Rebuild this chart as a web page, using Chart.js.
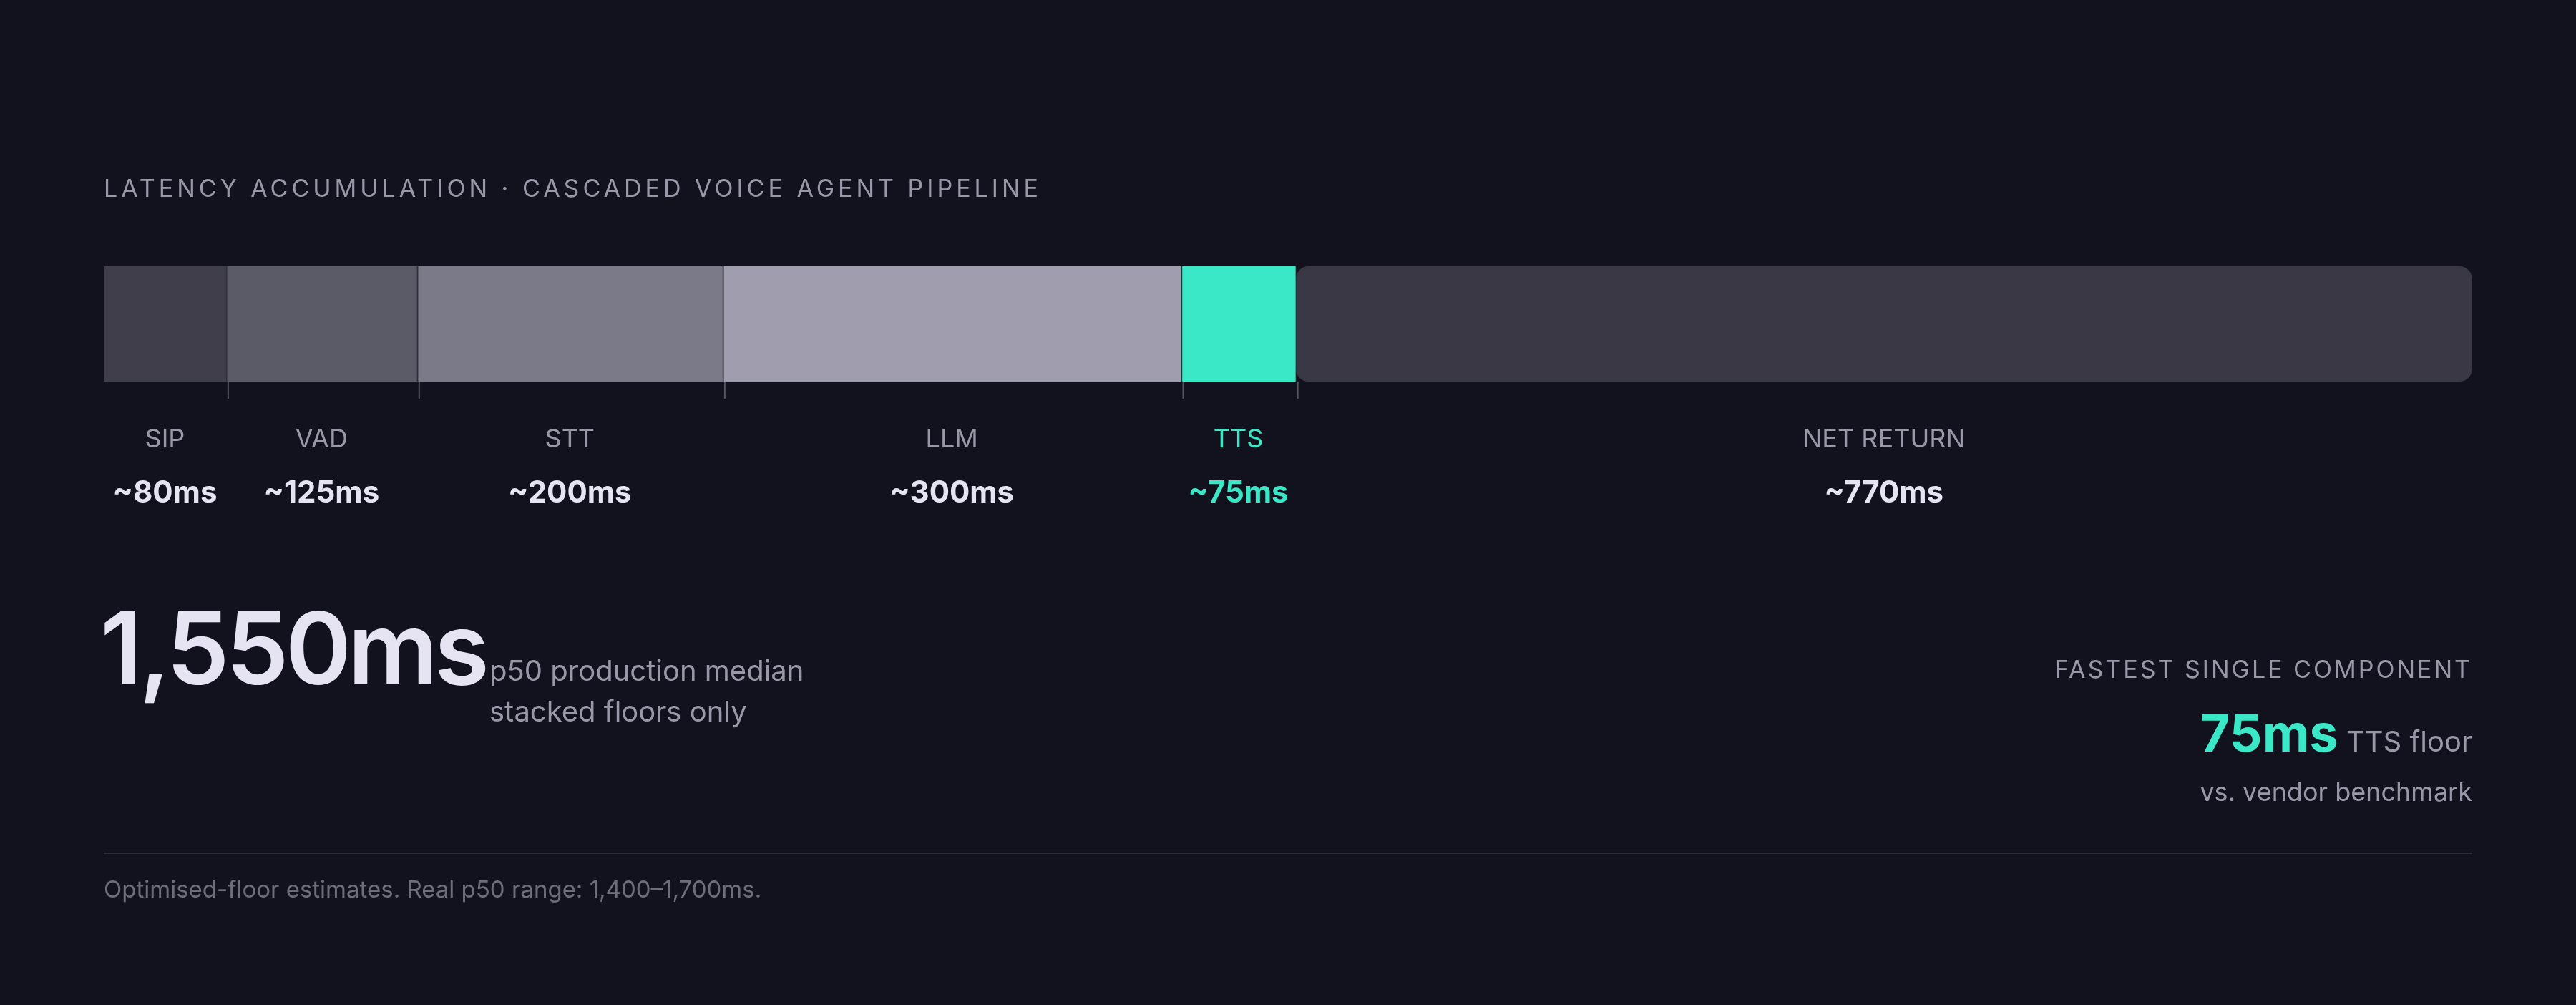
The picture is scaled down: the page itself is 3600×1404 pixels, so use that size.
<!DOCTYPE html>
<html>
<head>
<meta charset="utf-8">
<script src="https://cdn.jsdelivr.net/npm/chart.js@4"></script>
<style>
  html, body { margin: 0; padding: 0; background: #12121e; }
  body { width: 3600px; height: 1404px; position: relative; overflow: hidden; font-family: Inter, "Noto Sans", sans-serif; }
  #wrap { position: absolute; left: 0; top: 0; width: 3600px; height: 1404px; }
  .t { position: absolute; white-space: nowrap; }
</style>
</head>
<body>
<div id="wrap"><canvas id="chart"></canvas></div>

<div class="t" style="left:145px;top:242px;font-size:34px;letter-spacing:5px;color:#9a98a8;">LATENCY ACCUMULATION · CASCADED VOICE AGENT PIPELINE</div>

<div class="t" style="left:140px;top:820px;font-size:140px;font-weight:600;letter-spacing:-5px;color:#e6e4f2;">1,550ms</div>
<div class="t" style="left:684px;top:908px;font-size:40px;color:#9a98a8;line-height:57px;">p50 production median<br>stacked floors only</div>

<div class="t" style="right:145px;top:914px;font-size:34px;letter-spacing:3px;color:#9a98a8;">FASTEST SINGLE COMPONENT</div>
<div class="t" style="right:145px;top:980px;font-size:40px;color:#9a98a8;"><span style="font-size:72px;font-weight:700;color:#3ae8c8;">75ms</span> TTS floor</div>
<div class="t" style="right:145px;top:1084px;font-size:36px;color:#9a98a8;">vs. vendor benchmark</div>

<div style="position:absolute;left:145px;top:1191px;width:3310px;height:2px;background:#2c2b39;"></div>
<div class="t" style="left:145px;top:1222px;font-size:33px;color:#6e6d7a;">Optimised-floor estimates. Real p50 range: 1,400–1,700ms.</div>

<script>
const stages = ["SIP", "VAD", "STT", "LLM", "TTS", "NET RETURN"];
const latencies = [80, 125, 200, 300, 75, 770];
const valueLabels = ["~80ms", "~125ms", "~200ms", "~300ms", "~75ms", "~770ms"];
const fills = ["#3f3e4a", "#5b5a67", "#7b7a88", "#a09dae", "#3ae8c8", "#393844"];
const highlight = "TTS";

const total = latencies.reduce((a, b) => a + b, 0);

// Tick marks and labels under each segment
const segmentLabels = {
  id: "segmentLabels",
  afterDraw(chart) {
    const ctx = chart.ctx;
    const x = chart.scales.x;
    const bottom = chart.chartArea.bottom;
    let acc = 0;
    ctx.save();
    latencies.forEach((v, i) => {
      const cx = x.getPixelForValue(acc + v / 2);
      acc += v;
      if (i < latencies.length - 1) {
        const bx = x.getPixelForValue(acc) + 3;
        ctx.strokeStyle = "#55545f";
        ctx.lineWidth = 2;
        ctx.beginPath();
        ctx.moveTo(bx, bottom);
        ctx.lineTo(bx, bottom + 24);
        ctx.stroke();
      }
      const hot = stages[i] === highlight;
      ctx.textAlign = "center";
      ctx.textBaseline = "middle";
      ctx.fillStyle = hot ? "#3ae8c8" : "#9a98a8";
      ctx.font = "36px Inter, 'Noto Sans', sans-serif";
      ctx.fillText(stages[i], cx, 614);
      ctx.fillStyle = hot ? "#3ae8c8" : "#e6e4f2";
      ctx.font = "bold 42px Inter, 'Noto Sans', sans-serif";
      ctx.fillText(valueLabels[i], cx, 689);
    });
    ctx.restore();
  }
};

new Chart(document.getElementById("chart"), {
  type: "bar",
  data: {
    labels: ["pipeline"],
    datasets: stages.map((s, i) => ({
      label: s,
      data: [latencies[i]],
      backgroundColor: fills[i],
      borderColor: "#2e2d3a",
      borderWidth: i === 0 ? 0 : { left: 2 },
      borderRadius: 18,
      borderSkipped: false,
      barPercentage: 1,
      categoryPercentage: 1
    }))
  },
  options: {
    indexAxis: "y",
    responsive: true,
    maintainAspectRatio: false,
    animation: false,
    layout: { padding: { left: 145, right: 145, top: 372, bottom: 871 } },
    plugins: { legend: { display: false }, tooltip: { enabled: false } },
    scales: {
      x: { stacked: true, display: false, min: 0, max: total },
      y: { stacked: true, display: false }
    }
  },
  plugins: [segmentLabels]
});
</script>
</body>
</html>
